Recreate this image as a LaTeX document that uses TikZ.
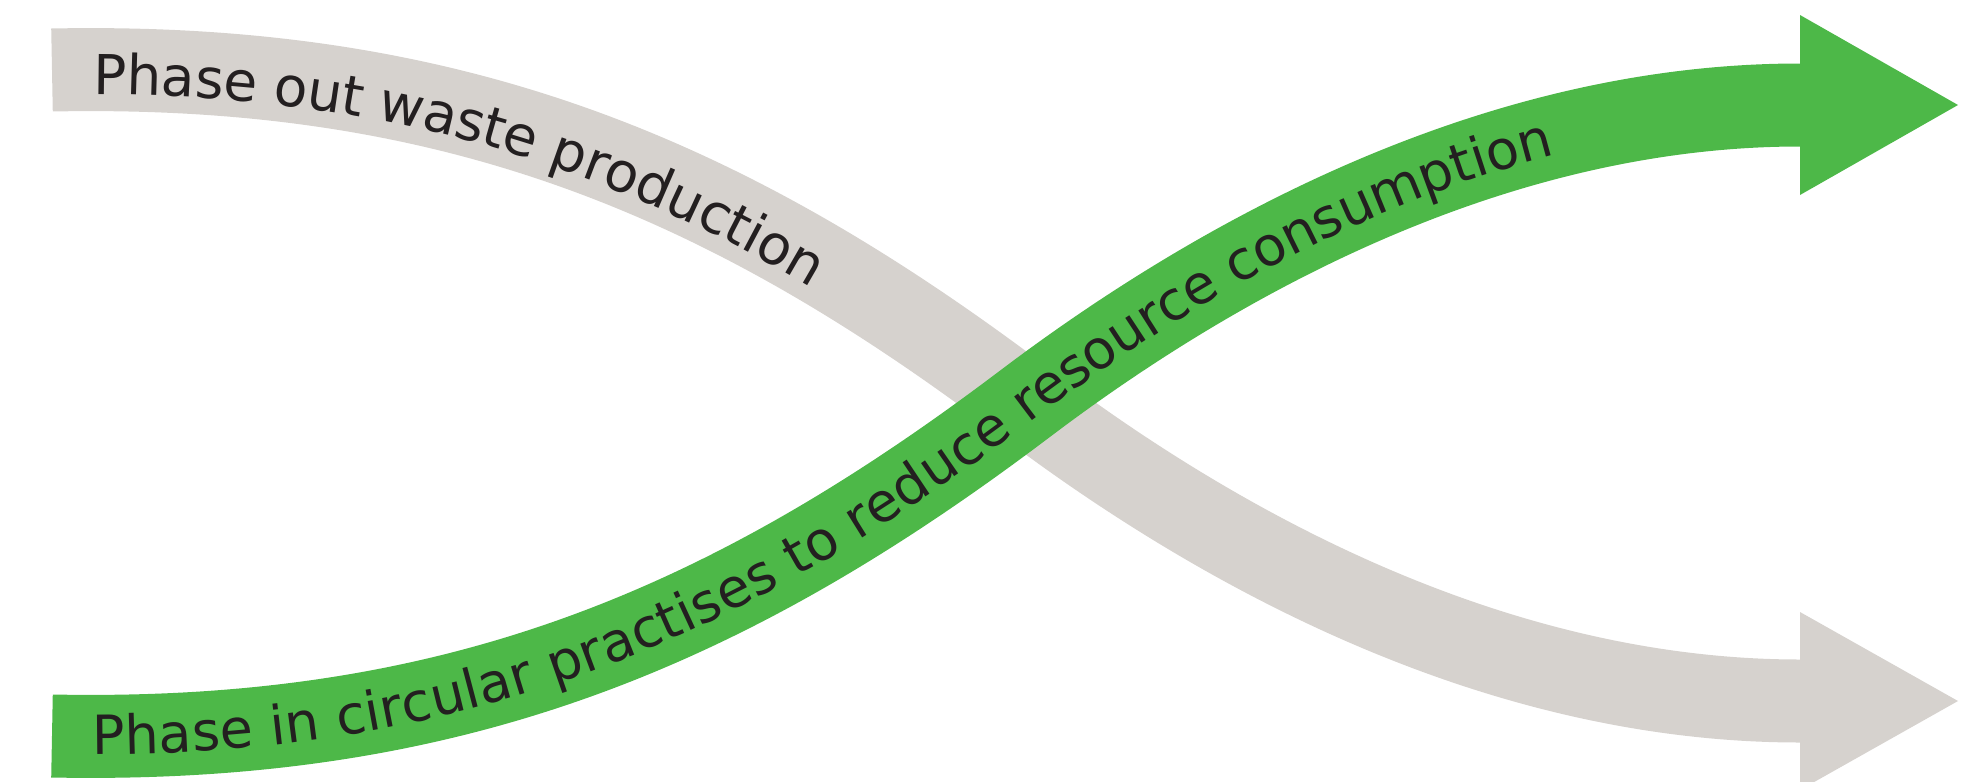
\documentclass[tikz,border=0pt]{standalone}
\usepackage{fontspec}
\setmainfont{DejaVu Sans}
\usetikzlibrary{decorations.text}
\definecolor{bandgray}{HTML}{D6D2CE}
\definecolor{bandgreen}{HTML}{4DB848}
\definecolor{txt}{HTML}{231F20}
\tikzset{
  band/.style={line width=41.5pt, line cap=butt},
}
\begin{document}
\begin{tikzpicture}[x=0.5pt, y=-0.5pt]
\useasboundingbox (0,0) rectangle (1966,782);
\clip (0,0) rectangle (1966,782);
% gray arrow
\coordinate (gs) at (52,70);
\coordinate (gm) at (1026,403);
\coordinate (ge) at (1800,701);
\coordinate (gtip) at (1958,701);
\draw[band, bandgray] (gs) .. controls (452,62) and (726,176) .. (gm) .. controls (1226,554) and (1500,701) .. (ge);
\fill[bandgray] (1800,612) -- (gtip) -- (1800,790) -- cycle;
\path[decorate, decoration={text along path, raise=-12.5pt, text align={left indent=21pt},
  text={|\fontsize{27.5pt}{27.5pt}\selectfont\color{txt}|Phase out waste production}}]
  (gs) .. controls (452,62) and (726,176) .. (gm) .. controls (1226,554) and (1500,701) .. (ge);
% green arrow
\coordinate (ns) at (52,736);
\coordinate (nm) at (1026,403);
\coordinate (ne) at (1800,105);
\coordinate (ntip) at (1958,105);
\draw[band, bandgreen] (ns) .. controls (452,744) and (726,630) .. (nm) .. controls (1226,252) and (1500,105) .. (ne);
\fill[bandgreen] (1800,15) -- (ntip) -- (1800,195) -- cycle;
\path[decorate, decoration={text along path, raise=-9pt, text align={left indent=20pt},
  text={|\fontsize{27pt}{27pt}\selectfont\color{txt}|Phase in circular practises to reduce resource consumption}}]
  (ns) .. controls (452,744) and (726,630) .. (nm) .. controls (1226,252) and (1500,105) .. (ne);
\end{tikzpicture}
\end{document}
